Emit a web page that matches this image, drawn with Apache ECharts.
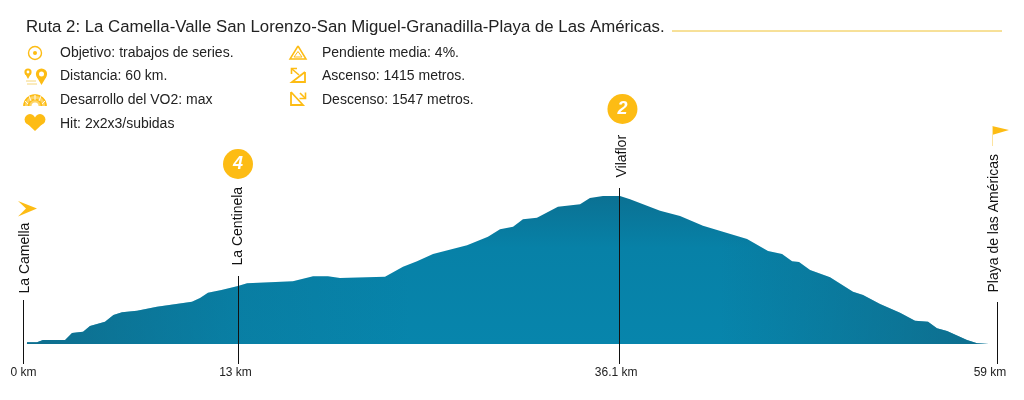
<!DOCTYPE html>
<html><head><meta charset="utf-8">
<style>html,body{margin:0;padding:0;background:#fff}#c{width:1024px;height:400px}</style>
<script src="https://cdn.jsdelivr.net/npm/echarts@6/dist/echarts.min.js"></script>
</head><body><div id="c"></div>
<script>
const titleText = "Ruta 2: La Camella-Valle San Lorenzo-San Miguel-Granadilla-Playa de Las Américas.";
const infoLeft = ["Objetivo: trabajos de series.","Distancia: 60 km.","Desarrollo del VO2: max","Hit: 2x2x3/subidas"];
const infoRight = ["Pendiente media: 4%.","Ascenso: 1415 metros.","Descenso: 1547 metros."];
const km = [0.21,0.82,1.18,2.52,2.94,3.61,4.03,4.94,5.45,5.97,6.88,8.09,10.21,10.70,11.18,12.0,13.0,13.55,16.33,17.55,18.45,19.18,21.91,23.0,23.85,24.82,26.88,28.15,28.88,29.67,30.27,31.12,32.39,33.73,34.33,35.12,36.15,36.76,38.58,39.79,41.18,43.85,45.12,45.97,46.58,47.0,47.67,48.88,50.27,50.88,51.91,53.12,54.03,54.82,55.36,55.97,57.18,57.79,58.5];
const elevation = [17,17,40,40,110,123,180,223,290,317,333,373,423,460,513,540,580,607,627,677,677,660,673,773,827,900,987,1073,1147,1173,1247,1263,1373,1397,1460,1480,1480,1447,1333,1280,1183,1050,930,900,827,820,740,667,523,490,400,313,233,223,157,130,40,7,0];
const tickKm = [0,13,36.1,59];
const tickLabels = ["0 km","13 km","36.1 km","59 km"];
const placeNames = ["La Camella","La Centinela","Vilaflor","Playa de las Américas"];
const stemTop = [440,680,1560,420];
const nameBase = [500,780,1660,510];
const badgeKm = [13,36.3];
const badgeHeight = [1800,2350];
const badgeText = ["4","2"];

const Y = "#fdbc14", TXT = "#222";
const nameShift = [2,0,3,-3];
const txt = (x,y,t,size)=>({type:'text',x,y,style:{text:t,fill:TXT,font:`${size}px "Liberation Sans"`,verticalAlign:'middle'}});
const poly = (pts,fill)=>({type:'polygon',shape:{points:pts},style:{fill}});
const pl = (pts,w,c)=>({type:'polyline',shape:{points:pts},style:{fill:'none',stroke:c||Y,lineWidth:w||1.4}});
const ring = (x,y,r,w)=>({type:'circle',shape:{cx:x,cy:y,r},style:{fill:'none',stroke:Y,lineWidth:w||1.4}});
const dot = (x,y,r,c)=>({type:'circle',shape:{cx:x,cy:y,r},style:{fill:c||Y}});
const graphics = [
  txt(26,27,titleText,16.8),
  {type:'line',shape:{x1:672,y1:31,x2:1002,y2:31},style:{stroke:'#efc232',lineWidth:1}},
  ...infoLeft.map((t,i)=>txt(60,[53,76,100,124][i],t,14)),
  ...infoRight.map((t,i)=>txt(322,[53,76,100][i],t,14)),
  // objective
  ring(35,53,6.5), dot(35,53,2),
  // distance
  dot(28,72,3.6), poly([[25,73.5],[31,73.5],[28,79]],Y), dot(28,72,1.4,'#fff'),
  pl([[26,81],[36,81]],1,'#f6d67a'), pl([[27,84],[37,84]],1,'#f6d67a'),
  dot(41.5,74,5.6), poly([[36.5,76.5],[46.5,76.5],[41.5,85]],Y), dot(41.5,74,2.5,'#fff'),
  // gauge
  {type:'sector',shape:{cx:35,cy:106,r0:3.5,r:11.5,startAngle:Math.PI,endAngle:2*Math.PI},style:{fill:'#fdd466'}},
  {type:'arc',shape:{cx:35,cy:106,r:11,startAngle:Math.PI,endAngle:2*Math.PI},style:{stroke:Y,lineWidth:1.6,fill:'none'}},
  {type:'arc',shape:{cx:35,cy:106,r:6.5,startAngle:Math.PI,endAngle:2*Math.PI},style:{stroke:Y,lineWidth:1.6,fill:'none'}},
  pl([[28,104],[25,101]],0.9,'#fff'),pl([[31,101],[29,96]],0.9,'#fff'),pl([[35,100],[35,95]],0.9,'#fff'),pl([[39,101],[41,96]],0.9,'#fff'),pl([[42,104],[45,101]],0.9,'#fff'),
  // heart
  dot(30,119.5,5.4), dot(40,119.5,5.4), poly([[25,121.5],[45,121.5],[35,131]],Y),
  // slope
  pl([[298,46],[306,59],[290,59],[298,46]],1.5), pl([[298,51.5],[302,57],[294,57],[298,51.5]],1),
  // ascent
  pl([[305,72],[305,82],[292,82],[305,72]],1.8), pl([[292,69],[299,75]],1.6), pl([[291.5,74],[291.5,68.5],[297,68.5]],1.6),
  // descent
  pl([[291,92],[291,105],[303,105],[291,92]],1.8), pl([[300,93],[305,98]],1.6), pl([[299.5,98.5],[305.5,98.5],[305.5,92.5]],1.6),
  // flags
  poly([[18,201],[37,208.5],[18,216.5],[26,208.5]],Y),
  poly([[992,126],[1009,130],[992,135]],Y),
  {type:'line',shape:{x1:992.5,y1:126,x2:992.5,y2:146},style:{stroke:'#fde4a0',lineWidth:1}}
];

const profile = km.map((k,i)=>[k,elevation[i]]);
const chart = echarts.init(document.getElementById('c'),null,{renderer:'canvas'});
chart.setOption({
  animation:false,
  graphic:graphics,
  grid:{left:23.5,right:27,top:0,bottom:36},
  xAxis:{type:'value',min:0,max:59,axisLine:{show:false},axisTick:{show:false},splitLine:{show:false},
    axisLabel:{customValues:tickKm,margin:3,color:TXT,fontFamily:'Liberation Sans',fontSize:12,hideOverlap:false,
      formatter:v=>{const i=tickKm.indexOf(v);return `{t${i}|${tickLabels[i]}}`;},
      rich:{t0:{fontSize:12,color:TXT},t1:{fontSize:12,color:TXT,padding:[0,5,0,0]},t2:{fontSize:12,color:TXT,padding:[0,6,0,0]},t3:{fontSize:12,color:TXT,padding:[0,14,0,0]}}}},
  yAxis:{type:'value',min:-200,max:3440,show:false,splitLine:{show:false}},
  series:[
    {type:'line',data:profile,showSymbol:false,lineStyle:{width:0},silent:true,z:2,
     areaStyle:{opacity:1,color:new echarts.graphic.LinearGradient(0,0,0,1,[{offset:0,color:'#0b7193'},{offset:0.35,color:'#0781a7'},{offset:1,color:'#0785ac'}])},
     markLine:{silent:true,symbol:'none',z:5,label:{show:false},lineStyle:{color:'#111',width:1,type:'solid'},
       data:tickKm.map((k,i)=>[{coord:[k,-200]},{coord:[k,stemTop[i]]}])}},
    {type:'line',data:profile,showSymbol:false,lineStyle:{width:0},silent:true,z:3,
     areaStyle:{opacity:1,color:new echarts.graphic.LinearGradient(0,0,1,0,[{offset:0,color:'rgba(16,104,134,.8)'},{offset:0.22,color:'rgba(16,104,134,.2)'},{offset:0.4,color:'rgba(16,104,134,0)'},{offset:0.72,color:'rgba(16,104,134,0)'},{offset:1,color:'rgba(16,104,134,.8)'}])}},
    {type:'scatter',symbolSize:1,itemStyle:{color:'rgba(0,0,0,0)',opacity:1},silent:true,z:6,
     data:tickKm.map((k,i)=>({value:[k,nameBase[i]],name:placeNames[i],label:{offset:[0,nameShift[i]]}})),
     label:{show:true,position:'top',distance:0,rotate:90,align:'left',verticalAlign:'middle',color:'#111',fontFamily:'Liberation Sans',fontSize:14,
       formatter:o=>o.name}},
    {type:'scatter',symbolSize:30,itemStyle:{color:Y,opacity:1},silent:true,z:6,
     data:badgeKm.map((k,i)=>({value:[k,badgeHeight[i]],name:badgeText[i]})),
     label:{show:true,position:'inside',color:'#fff',fontFamily:'Liberation Sans',fontSize:18,fontWeight:'bold',fontStyle:'italic',formatter:o=>o.name}}
  ]
});
</script></body></html>
